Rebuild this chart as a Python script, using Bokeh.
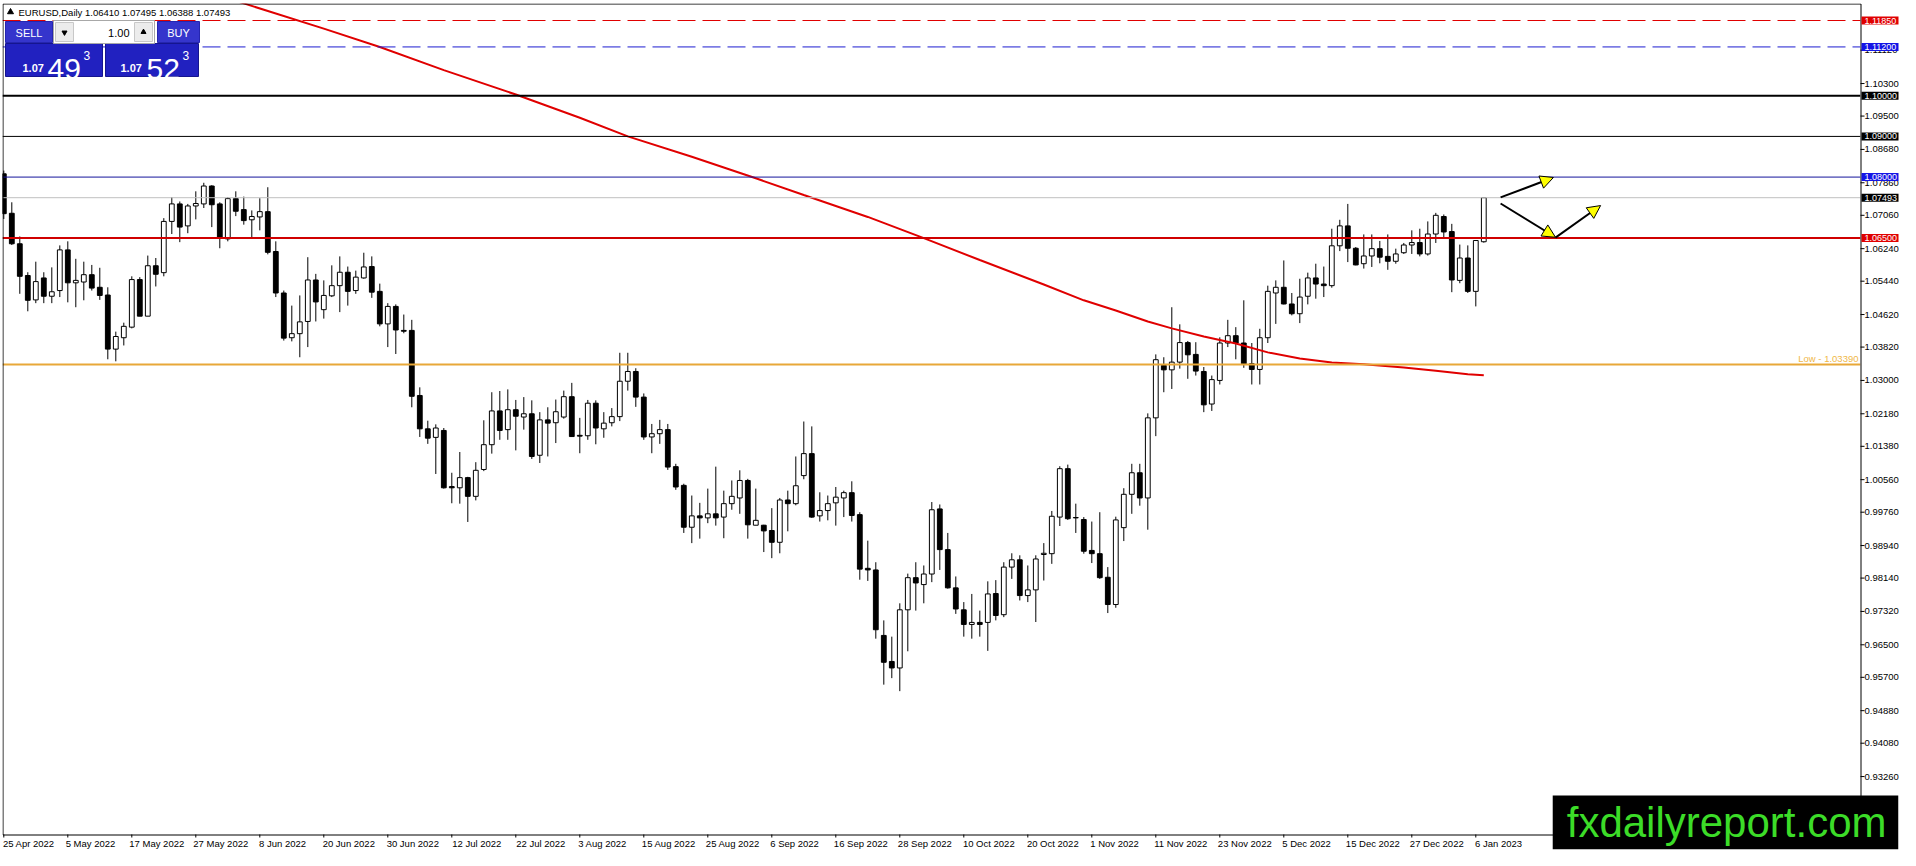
from bokeh.plotting import figure
from bokeh.models import Range1d, FixedTicker, NumeralTickFormatter, Label, Arrow, NormalHead
from bokeh.embed import file_html
from bokeh.resources import INLINE
from bokeh.core.properties import value

FONT = "Liberation Sans"

# ---------------- data (EURUSD daily) ----------------
opens = [
1.0808, 1.0711, 1.0636, 1.0558, 1.0498, 1.0552, 1.0507, 1.0521, 1.0621, 1.0540,
1.0542, 1.0560, 1.0529, 1.0510, 1.0377, 1.0405, 1.0431, 1.0548, 1.0458, 1.0582,
1.0565, 1.0691, 1.0734, 1.0680, 1.0729, 1.0734, 1.0778, 1.0734, 1.0648, 1.0747,
1.0720, 1.0695, 1.0702, 1.0715, 1.0617, 1.0515, 1.0405, 1.0415, 1.0445, 1.0547,
1.0474, 1.0508, 1.0533, 1.0566, 1.0521, 1.0552, 1.0580, 1.0519, 1.0439, 1.0482,
1.0423, 1.0423, 1.0263, 1.0181, 1.0160, 1.0177, 1.0039, 1.0036, 1.0061, 1.0015,
1.0081, 1.0142, 1.0225, 1.0179, 1.0228, 1.0210, 1.0218, 1.0116, 1.0203, 1.0196,
1.0210, 1.0260, 1.0165, 1.0164, 1.0244, 1.0181, 1.0196, 1.0211, 1.0298, 1.0322,
1.0259, 1.0161, 1.0169, 1.0179, 1.0088, 1.0042, 0.9939, 0.9967, 0.9962, 0.9972,
0.9964, 0.9997, 1.0011, 1.0054, 0.9944, 0.9944, 0.9931, 0.9902, 1.0006, 0.9997,
1.0066, 1.0120, 0.9967, 0.9980, 0.9999, 1.0011, 1.0024, 0.9970, 0.9838, 0.9834,
0.9673, 0.9609, 0.9593, 0.9736, 0.9815, 0.9798, 0.9824, 0.9984, 0.9884, 0.9790,
0.9736, 0.9700, 0.9705, 0.9705, 0.9776, 0.9724, 0.9841, 0.9859, 0.9771, 0.9785,
0.9872, 0.9874, 0.9964, 1.0083, 0.9963, 0.9958, 0.9882, 0.9874, 0.9816, 0.9749,
0.9938, 1.0020, 1.0073, 1.0011, 1.0208, 1.0337, 1.0326, 1.0345, 1.0393, 1.0364,
1.0322, 1.0242, 1.0300, 1.0392, 1.0410, 1.0392, 1.0341, 1.0327, 1.0405, 1.0515,
1.0529, 1.0488, 1.0464, 1.0507, 1.0552, 1.0537, 1.0533, 1.0631, 1.0680, 1.0625,
1.0587, 1.0606, 1.0624, 1.0605, 1.0593, 1.0614, 1.0633, 1.0639, 1.0611, 1.0660,
1.0703, 1.0666, 1.0546, 1.0601, 1.0519, 1.06410]

highs = [
1.0816, 1.0738, 1.0654, 1.0566, 1.0592, 1.0566, 1.0578, 1.0632, 1.0642, 1.0599,
1.0592, 1.0584, 1.0577, 1.0529, 1.0420, 1.0442, 1.0556, 1.0554, 1.0607, 1.0601,
1.0699, 1.0751, 1.0740, 1.0734, 1.0765, 1.0786, 1.0780, 1.0738, 1.0751, 1.0765,
1.0752, 1.0718, 1.0748, 1.0775, 1.0642, 1.0521, 1.0484, 1.0509, 1.0603, 1.0562,
1.0546, 1.0583, 1.0605, 1.0580, 1.0570, 1.0614, 1.0605, 1.0538, 1.0490, 1.0487,
1.0462, 1.0449, 1.0283, 1.0201, 1.0192, 1.0183, 1.0073, 1.0124, 1.0063, 1.0099,
1.0202, 1.0271, 1.0274, 1.0278, 1.0252, 1.0259, 1.0251, 1.0222, 1.0234, 1.0253,
1.0275, 1.0294, 1.0208, 1.0252, 1.0251, 1.0222, 1.0232, 1.0368, 1.0368, 1.0330,
1.0268, 1.0193, 1.0203, 1.0193, 1.0095, 1.0046, 1.0017, 0.9999, 1.0034, 1.0088,
1.0029, 1.0054, 1.0079, 1.0058, 1.0034, 0.9945, 0.9986, 1.0011, 1.0029, 1.0113,
1.0199, 1.0187, 1.0025, 1.0017, 1.0038, 1.0029, 1.0052, 0.9976, 0.9906, 0.9853,
0.9710, 0.9670, 0.9752, 0.9825, 0.9853, 0.9845, 1.0001, 0.9995, 0.9925, 0.9818,
0.9755, 0.9775, 0.9734, 0.9806, 0.9809, 0.9853, 0.9875, 0.9870, 0.9845, 0.9870,
0.9900, 0.9979, 1.0089, 1.0093, 0.9997, 0.9964, 0.9953, 0.9976, 0.9841, 0.9965,
1.0035, 1.0095, 1.0095, 1.0219, 1.0364, 1.0357, 1.0480, 1.0438, 1.0397, 1.0394,
1.0333, 1.0312, 1.0406, 1.0449, 1.0431, 1.0497, 1.0392, 1.0427, 1.0533, 1.0546,
1.0595, 1.0515, 1.0550, 1.0565, 1.0587, 1.0580, 1.0673, 1.0695, 1.0734, 1.0628,
1.0659, 1.0659, 1.0643, 1.0659, 1.0624, 1.0638, 1.0669, 1.0673, 1.0691, 1.0712,
1.0708, 1.0685, 1.0634, 1.0632, 1.0645, 1.07495]

lows = [
1.0697, 1.0633, 1.0513, 1.0470, 1.0490, 1.0490, 1.0490, 1.0505, 1.0492, 1.0480,
1.0497, 1.0521, 1.0498, 1.0352, 1.0347, 1.0386, 1.0428, 1.0458, 1.0458, 1.0531,
1.0556, 1.0660, 1.0640, 1.0662, 1.0696, 1.0724, 1.0677, 1.0625, 1.0642, 1.0704,
1.0683, 1.0651, 1.0669, 1.0610, 1.0505, 1.0398, 1.0396, 1.0357, 1.0382, 1.0445,
1.0452, 1.0505, 1.0468, 1.0484, 1.0513, 1.0550, 1.0503, 1.0433, 1.0382, 1.0365,
1.0416, 1.0234, 1.0161, 1.0144, 1.0070, 1.0034, 0.9998, 0.9997, 0.9952, 1.0005,
1.0077, 1.0120, 1.0154, 1.0154, 1.0128, 1.0179, 1.0107, 1.0097, 1.0113, 1.0146,
1.0206, 1.0161, 1.0121, 1.0154, 1.0143, 1.0159, 1.0187, 1.0200, 1.0275, 1.0235,
1.0154, 1.0121, 1.0144, 1.0080, 1.0031, 0.9925, 0.9900, 0.9911, 0.9949, 0.9943,
0.9912, 0.9982, 0.9972, 0.9911, 0.9944, 0.9878, 0.9863, 0.9875, 0.9929, 0.9993,
1.0057, 0.9962, 0.9953, 0.9956, 0.9943, 0.9964, 0.9953, 0.9810, 0.9807, 0.9665,
0.9552, 0.9568, 0.9536, 0.9634, 0.9734, 0.9752, 0.9804, 0.9834, 0.9788, 0.9726,
0.9670, 0.9665, 0.9670, 0.9635, 0.9710, 0.9718, 0.9812, 0.9759, 0.9755, 0.9706,
0.9808, 0.9849, 0.9942, 0.9957, 0.9925, 0.9874, 0.9851, 0.9812, 0.9728, 0.9741,
0.9905, 0.9972, 0.9992, 0.9933, 1.0163, 1.0271, 1.0279, 1.0329, 1.0304, 1.0312,
1.0222, 1.0225, 1.0290, 1.0382, 1.0352, 1.0331, 1.0290, 1.0290, 1.0392, 1.0439,
1.0487, 1.0460, 1.0441, 1.0487, 1.0501, 1.0505, 1.0528, 1.0618, 1.0591, 1.0583,
1.0575, 1.0579, 1.0588, 1.0572, 1.0587, 1.0611, 1.0611, 1.0605, 1.0607, 1.0638,
1.0651, 1.0517, 1.0539, 1.0515, 1.0482, 1.06388]

closes = [
1.0710, 1.0636, 1.0556, 1.0497, 1.0543, 1.0507, 1.0518, 1.0621, 1.0540, 1.0546,
1.0560, 1.0527, 1.0509, 1.0377, 1.0408, 1.0433, 1.0548, 1.0458, 1.0582, 1.0561,
1.0691, 1.0734, 1.0677, 1.0729, 1.0735, 1.0778, 1.0732, 1.0651, 1.0747, 1.0716,
1.0693, 1.0703, 1.0715, 1.0615, 1.0515, 1.0404, 1.0415, 1.0444, 1.0547, 1.0493,
1.0509, 1.0533, 1.0566, 1.0519, 1.0554, 1.0579, 1.0517, 1.0439, 1.0482, 1.0424,
1.0421, 1.0261, 1.0181, 1.0158, 1.0183, 1.0036, 1.0036, 1.0061, 1.0015, 1.0079,
1.0142, 1.0225, 1.0177, 1.0228, 1.0212, 1.0218, 1.0113, 1.0203, 1.0195, 1.0223,
1.0260, 1.0162, 1.0163, 1.0244, 1.0183, 1.0195, 1.0211, 1.0298, 1.0322, 1.0259,
1.0161, 1.0169, 1.0179, 1.0087, 1.0038, 0.9939, 0.9967, 0.9962, 0.9972, 0.9962,
0.9997, 1.0015, 1.0054, 0.9945, 0.9956, 0.9930, 0.9902, 1.0006, 0.9997, 1.0041,
1.0120, 0.9964, 0.9980, 0.9997, 1.0013, 1.0024, 0.9968, 0.9836, 0.9834, 0.9687,
0.9607, 0.9593, 0.9736, 0.9815, 0.9802, 0.9824, 0.9982, 0.9884, 0.9790, 0.9738,
0.9700, 0.9705, 0.9700, 0.9775, 0.9722, 0.9841, 0.9859, 0.9771, 0.9785, 0.9861,
0.9875, 0.9966, 1.0083, 0.9960, 0.9962, 0.9880, 0.9874, 0.9815, 0.9749, 0.9957,
1.0020, 1.0073, 1.0011, 1.0208, 1.0351, 1.0326, 1.0345, 1.0393, 1.0363, 1.0323,
1.0240, 1.0302, 1.0392, 1.0410, 1.0392, 1.0341, 1.0327, 1.0405, 1.0519, 1.0529,
1.0488, 1.0464, 1.0505, 1.0552, 1.0537, 1.0533, 1.0631, 1.0680, 1.0625, 1.0584,
1.0606, 1.0624, 1.0603, 1.0593, 1.0611, 1.0633, 1.0639, 1.0611, 1.0660, 1.0706,
1.0665, 1.0547, 1.0601, 1.0519, 1.0644, 1.07493]

bar_idx = list(range(len(opens)))

date_tick_idx = [0, 8, 16, 24, 32, 40, 48, 56, 64, 72, 80, 88, 96, 104, 112, 120,
                 128, 136, 144, 152, 160, 168, 176, 184]
date_labels = ["25 Apr 2022", "5 May 2022", "17 May 2022", "27 May 2022", "8 Jun 2022",
               "20 Jun 2022", "30 Jun 2022", "12 Jul 2022", "22 Jul 2022", "3 Aug 2022",
               "15 Aug 2022", "25 Aug 2022", "6 Sep 2022", "16 Sep 2022", "28 Sep 2022",
               "10 Oct 2022", "20 Oct 2022", "1 Nov 2022", "11 Nov 2022", "23 Nov 2022",
               "5 Dec 2022", "15 Dec 2022", "27 Dec 2022", "6 Jan 2023"]

# moving average (red curve), sampled bars
ma_idx = [25, 30, 40, 47, 55, 64, 72, 78, 86, 94, 100, 108, 115, 122, 130, 135, 139, 143,
          146, 150, 154, 158, 162, 166, 170, 175, 179, 183, 185]
ma_val = [1.1259, 1.1227, 1.1165, 1.1120, 1.1063, 1.1003, 1.0946, 1.0900, 1.0850, 1.0797,
          1.0756, 1.0702, 1.0650, 1.0596, 1.0536, 1.0497, 1.0472, 1.0445, 1.0428, 1.0408,
          1.0391, 1.0369, 1.0354, 1.0344, 1.0340, 1.0332, 1.0324, 1.0315, 1.0313]

ytick_vals = [1.1112, 1.1030, 1.0950, 1.0868, 1.0786, 1.0706, 1.0624, 1.0544, 1.0462,
              1.0382, 1.0300, 1.0218, 1.0138, 1.0056, 0.9976, 0.9894, 0.9814, 0.9732,
              0.9650, 0.9570, 0.9488, 0.9408, 0.9326]

level_prices = [1.1185, 1.1120, 1.1000, 1.0900, 1.0800, 1.07493, 1.0650]
level_line_colors = ["#e00000", "#1c1cd0", "#000000", "#000000", "#14149c", "#c0c0c0", "#d00000"]
level_box_colors = ["#e00000", "#1414e6", "#000000", "#000000", "#1414e6", "#000000", "#e00000"]
level_widths = [1, 1, 2, 1, 1, 1, 2]
level_dashes = ["18 7", "18 7", "solid", "solid", "solid", "solid", "solid"]

low_level = 1.03390

bid_price = 1.07493
ask_price = 1.07523
lot_size = "1.00"

arrow_x0 = [187.1, 187.1, 193.96]
arrow_y0 = [1.0750, 1.0735, 1.0651]
arrow_x1 = [193.7, 193.96, 199.6]
arrow_y1 = [1.0799, 1.0652, 1.0730]

# ---------------- geometry ----------------
L0, T0 = 2, 3                         # frame origin on the canvas (px)
FW, FH = 1896, 846                    # frame (chart + price/date scale area)
CW, CH = 1858, 831                    # chart area inside the frame
PX_BAR, PX_PRICE = 8.0, 4067.0
XS = (L0 - 3.3) / PX_BAR
XC = XS + CW / PX_BAR
XE = XS + FW / PX_BAR
YE = 1.1185 + (20 - T0) / PX_PRICE
YC = YE - CH / PX_PRICE
YS = YE - FH / PX_PRICE

p = figure(frame_width=FW, frame_height=FH, x_range=Range1d(XS, XE), y_range=Range1d(YS, YE),
           y_axis_location="right", output_backend="svg", toolbar_location=None,
           min_border_left=L0, min_border_top=T0, min_border_right=0, min_border_bottom=0,
           background_fill_color="white", border_fill_color="white")
p.outline_line_color = None
p.xgrid.visible = False
p.ygrid.visible = False
# canvas-pixel ranges for the chart furniture
p.extra_x_ranges = {"px": Range1d(L0, L0 + FW)}
p.extra_y_ranges = {"py": Range1d(T0 + FH, T0)}
R = dict(x_range_name="px", y_range_name="py")
CR, CB = L0 + CW, T0 + CH             # chart right / bottom in canvas px

# price scale: labels just right of the chart border
ya = p.yaxis[0]
ya.ticker = FixedTicker(ticks=ytick_vals, minor_ticks=[])
ya.formatter = NumeralTickFormatter(format="0.00000")
ya.axis_line_color = None
ya.major_tick_out = 0
ya.major_tick_in = 0
ya.minor_tick_out = 0
ya.minor_tick_in = 0
ya.major_label_standoff = -(FW - CW) + 4
ya.major_label_text_font = FONT
ya.major_label_text_font_size = "9.5px"
ya.major_label_text_color = "black"

# date scale: labels just below the chart border
xa = p.xaxis[0]
centers = [round(i + len(s) * 0.284, 3) for i, s in zip(date_tick_idx, date_labels)]
xa.ticker = FixedTicker(ticks=centers, minor_ticks=[])
xa.major_label_overrides = {c: s for c, s in zip(centers, date_labels)}
xa.axis_line_color = None
xa.major_tick_out = 0
xa.major_tick_in = 0
xa.minor_tick_out = 0
xa.minor_tick_in = 0
xa.major_label_standoff = -(FH - CH) + 3
xa.major_label_text_font = FONT
xa.major_label_text_font_size = "9.5px"
xa.major_label_text_color = "black"

# ---------------- candles ----------------
inc = [i for i in bar_idx if closes[i] >= opens[i]]
dec = [i for i in bar_idx if closes[i] < opens[i]]
p.segment(x0=bar_idx, y0=lows, x1=bar_idx, y1=highs, line_color="black", line_width=1)
p.vbar(x=inc, width=0.6, top=[closes[i] for i in inc], bottom=[opens[i] for i in inc],
       fill_color="white", line_color="black", line_width=1)
p.vbar(x=dec, width=0.6, top=[opens[i] for i in dec], bottom=[closes[i] for i in dec],
       fill_color="black", line_color="black", line_width=1)

# moving average
p.line(ma_idx, ma_val, line_color="#e00000", line_width=2)

# horizontal levels (chart area only)
for lv, lc, lw, ld in zip(level_prices, level_line_colors, level_widths, level_dashes):
    p.segment(x0=[XS], y0=[lv], x1=[XC], y1=[lv], line_color=lc, line_width=lw, line_dash=ld)
p.segment(x0=[XS], y0=[low_level], x1=[XC], y1=[low_level], line_color="#e8a838", line_width=2)

# scale areas, chart border and scale tick marks
p.quad(left=[CR], right=[L0 + FW], top=[T0], bottom=[T0 + FH], fill_color="white", line_color=None, **R)
p.quad(left=[L0], right=[L0 + FW], top=[CB], bottom=[T0 + FH], fill_color="white", line_color=None, **R)
p.quad(left=[L0 + 0.5], right=[CR + 0.5], top=[T0 + 0.5], bottom=[CB + 0.5], fill_color=None,
       line_color="black", line_width=1, **R)
p.segment(x0=[XC] * len(ytick_vals), y0=ytick_vals, x1=[XC + 4 / PX_BAR] * len(ytick_vals),
          y1=ytick_vals, line_color="black", line_width=1)
p.segment(x0=date_tick_idx, y0=[YC] * len(date_tick_idx), x1=date_tick_idx,
          y1=[YC - 3 / PX_PRICE] * len(date_tick_idx), line_color="black", line_width=1)

# ---------------- one-click trading panel (canvas px) ----------------
p.quad(left=[5, 157], right=[52, 199], top=[21, 21], bottom=[42, 42],
       fill_color="#3535cc", line_color="#2525b0", **R)
p.quad(left=[5, 105], right=[102, 198], top=[43, 43], bottom=[76, 76],
       fill_color="#2121c0", line_color="#15158f", **R)
p.quad(left=[53], right=[154], top=[20], bottom=[43], fill_color="white", line_color="#a8a8a8", **R)
p.quad(left=[55, 134], right=[73, 152], top=[22, 22], bottom=[41, 41],
       fill_color="#ececec", line_color="#c8c8c8", **R)
p.scatter(x=[64], y=[32], marker="inverted_triangle", size=5, color="black", **R)
p.scatter(x=[143], y=[31.5], marker="triangle", size=5, color="black", **R)
p.scatter(x=[10], y=[11.5], marker="triangle", size=6, color="black", **R)

header = f"EURUSD,Daily  {opens[-1]:.5f} {highs[-1]:.5f} {lows[-1]:.5f} {closes[-1]:.5f}"
p.text(x=[18], y=[11.5], text=[header], text_align="left", text_baseline="middle",
       text_color="black", text_font=value(FONT), text_font_size="9.5px", **R)
p.text(x=[28.5, 178], y=[32, 32], text=["SELL", "BUY"], text_align="center",
       text_baseline="middle", text_color="white", text_font=value(FONT), text_font_size="11px", **R)
p.text(x=[129], y=[32], text=[lot_size], text_align="right", text_baseline="middle",
       text_color="black", text_font=value(FONT), text_font_size="11px", **R)

def split_price(v):
    s = f"{v:.5f}"
    return s[:4], s[4:6], s[6]

bid_parts = split_price(bid_price)
ask_parts = split_price(ask_price)
p.text(x=[22, 120], y=[67, 67], text=[bid_parts[0], ask_parts[0]], text_align="left",
       text_baseline="alphabetic", text_color="white", text_font=value(FONT),
       text_font_size="11px", text_font_style="bold", **R)
p.text(x=[47, 146], y=[68, 68], text=[bid_parts[1], ask_parts[1]], text_align="left",
       text_baseline="alphabetic", text_color="white", text_font=value(FONT),
       text_font_size="30px", **R)
p.text(x=[83, 182], y=[55, 55], text=[bid_parts[2], ask_parts[2]], text_align="left",
       text_baseline="alphabetic", text_color="white", text_font=value(FONT),
       text_font_size="12px", **R)

# ---------------- arrows ----------------
for x0, y0, x1, y1 in zip(arrow_x0, arrow_y0, arrow_x1, arrow_y1):
    p.add_layout(Arrow(end=NormalHead(size=13, fill_color="#ffff00", line_color="black", line_width=1),
                       x_start=x0, y_start=y0, x_end=x1, y_end=y1,
                       line_color="black", line_width=2))

# ---------------- labels ----------------
p.add_layout(Label(x=XC, y=low_level, text=f"Low - {low_level:.5f}", text_align="right",
                   text_baseline="bottom", x_offset=-2, y_offset=1, text_color="#f0b848",
                   text_font=FONT, text_font_size="9.5px"))

for lv, bc in zip(level_prices, level_box_colors):
    p.add_layout(Label(x=XC, y=lv, text=f"{lv:.5f}", x_offset=1, text_align="left",
                       text_baseline="middle", text_color="white", text_font=FONT,
                       text_font_size="9px", background_fill_color=bc,
                       background_fill_alpha=1.0,
                       padding=dict(left=3, right=3, top=1, bottom=1)))

p.add_layout(Label(x=XE, y=YS, text="fxdailyreport.com", x_offset=0, y_offset=0,
                   text_align="right", text_baseline="bottom", text_color="#3cdc28",
                   text_font=FONT, text_font_size="42px", background_fill_color="black",
                   padding=dict(left=14, right=12, top=3, bottom=4)))

open("out.html", "w").write(file_html(p, INLINE))
